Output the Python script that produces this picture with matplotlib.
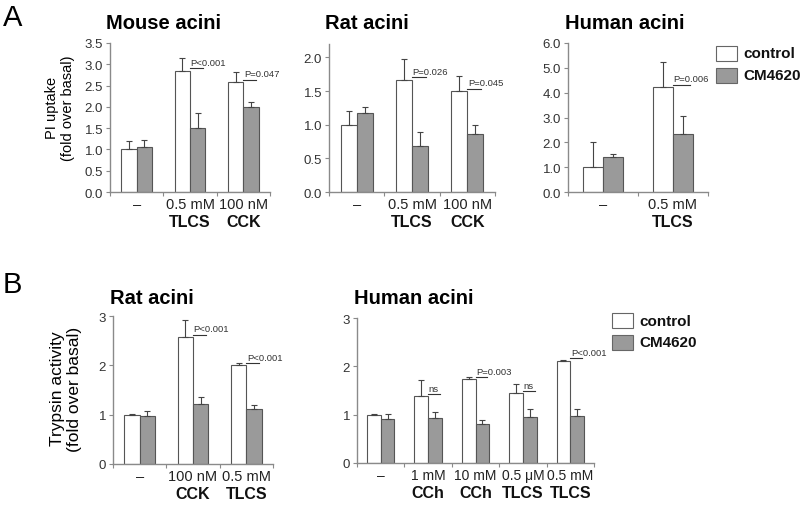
import numpy as np
import matplotlib
matplotlib.use("Agg")
import matplotlib.pyplot as plt
import matplotlib.transforms as mtrans

plt.rcParams['font.family'] = ['Liberation Sans', 'DejaVu Sans']

# ---- data ----
# panel A: PI uptake
mouse_ctrl = [1.0, 2.85, 2.58]
mouse_ctrl_err = [0.2, 0.3, 0.25]
mouse_cm = [1.06, 1.5, 2.0]
mouse_cm_err = [0.16, 0.35, 0.12]
mouse_conc = ["\u2013", "0.5 mM", "100 nM"]
mouse_agent = ["", "TLCS", "CCK"]
mouse_p = [None, "P<0.001", "P=0.047"]

rat_a_ctrl = [1.0, 1.67, 1.5]
rat_a_ctrl_err = [0.2, 0.31, 0.23]
rat_a_cm = [1.17, 0.69, 0.86]
rat_a_cm_err = [0.1, 0.2, 0.14]
rat_a_conc = ["\u2013", "0.5 mM", "100 nM"]
rat_a_agent = ["", "TLCS", "CCK"]
rat_a_p = [None, "P=0.026", "P=0.045"]

human_a_ctrl = [1.02, 4.22]
human_a_ctrl_err = [0.98, 1.0]
human_a_cm = [1.4, 2.35]
human_a_cm_err = [0.14, 0.72]
human_a_conc = ["\u2013", "0.5 mM"]
human_a_agent = ["", "TLCS"]
human_a_p = [None, "P=0.006"]

# panel B: trypsin activity
rat_b_ctrl = [1.0, 2.58, 2.0]
rat_b_ctrl_err = [0.01, 0.33, 0.05]
rat_b_cm = [0.97, 1.22, 1.11]
rat_b_cm_err = [0.1, 0.13, 0.08]
rat_b_conc = ["\u2013", "100 nM", "0.5 mM"]
rat_b_agent = ["", "CCK", "TLCS"]
rat_b_p = [None, "P<0.001", "P<0.001"]

human_b_ctrl = [1.0, 1.38, 1.73, 1.44, 2.12]
human_b_ctrl_err = [0.01, 0.33, 0.04, 0.19, 0.01]
human_b_cm = [0.91, 0.93, 0.8, 0.95, 0.97]
human_b_cm_err = [0.1, 0.13, 0.1, 0.17, 0.14]
human_b_conc = ["\u2013", "1 mM", "10 mM", "0.5 \u03bcM", "0.5 mM"]
human_b_agent = ["", "CCh", "CCh", "TLCS", "TLCS"]
human_b_p = [None, "ns", "P=0.003", "ns", "P<0.001"]

W, H = 800, 506
fig = plt.figure(figsize=(8, 5.06), dpi=100)

SPINE = "#8a8a8a"
EDGE = "#555555"
GREY = "#9a9a9a"
BW = 0.29


def px_axes(left, top, right, bottom):
    return fig.add_axes([left / W, 1 - bottom / H, (right - left) / W, (bottom - top) / H])


def bar_panel(ax, ctrl, ctrl_err, cm, cm_err, conc, agent, pvals,
              ylim, yticks, fmt, title, title_x, title_y, conc_fs=10.5):
    n = len(ctrl)
    centers = np.arange(n) + 0.5
    xc = centers - BW / 2
    xm = centers + BW / 2
    ax.bar(xc, ctrl, BW, color="white", edgecolor=EDGE, linewidth=0.8, zorder=2)
    ax.bar(xm, cm, BW, color=GREY, edgecolor=EDGE, linewidth=0.8, zorder=2)
    ax.errorbar(xc, ctrl, yerr=[np.zeros(n), ctrl_err], fmt="none", ecolor="#444444",
                elinewidth=0.8, capsize=2.2, capthick=0.8, zorder=3)
    ax.errorbar(xm, cm, yerr=[np.zeros(n), cm_err], fmt="none", ecolor="#444444",
                elinewidth=0.8, capsize=2.2, capthick=0.8, zorder=3)
    ax.set_xlim(0, n)
    ax.set_ylim(*ylim)
    ax.set_yticks(yticks)
    ax.set_yticklabels([fmt.format(t) for t in yticks])
    ax.set_xticks(np.arange(n + 1))
    ax.set_xticklabels([])
    for s in ["top", "right"]:
        ax.spines[s].set_visible(False)
    for s in ["left", "bottom"]:
        ax.spines[s].set_color(SPINE)
        ax.spines[s].set_linewidth(1.0)
    ax.tick_params(axis="both", direction="out", length=3, width=0.8, color=SPINE,
                   labelsize=9.5, labelcolor="#333333", pad=2)
    ax.patch.set_alpha(0)

    trans = mtrans.blended_transform_factory(ax.transData, ax.transAxes)
    off = mtrans.ScaledTranslation(0, -3.5 / 72, fig.dpi_scale_trans)
    off2 = mtrans.ScaledTranslation(0, -15.5 / 72, fig.dpi_scale_trans)
    for i in range(n):
        ax.text(centers[i], 0, conc[i], transform=trans + off, ha="center", va="top",
                fontsize=conc_fs, color="#222222")
        if agent[i]:
            ax.text(centers[i], 0, agent[i], transform=trans + off2, ha="center", va="top",
                    fontsize=11.5, fontweight="bold", color="#111111")

    span = ylim[1] - ylim[0]
    for i, p in enumerate(pvals):
        if p is None:
            continue
        y = ctrl[i] + 0.015 * span
        x0 = centers[i]
        ax.plot([x0, x0 + BW * 0.85], [y, y], color="#333333", lw=0.8, zorder=4,
                clip_on=False)
        ax.text(x0 + 0.01, y + 0.01 * span, p, ha="left", va="bottom", fontsize=6.8,
                color="#333333", zorder=4, clip_on=False)

    fig.text(title_x / W, 1 - title_y / H, title, ha="center", va="center",
             fontsize=14.5, fontweight="bold")


def legend_at(x, y_top):
    # x, y_top in pixels (top-left of control box)
    for k, (lab, col) in enumerate([("control", "white"), ("CM4620", GREY)]):
        yt = y_top + k * 22
        r = plt.Rectangle((x / W, 1 - (yt + 15) / H), 21 / W, 15 / H, transform=fig.transFigure,
                          facecolor=col, edgecolor="#666666", linewidth=0.8)
        fig.patches.append(r)
        fig.text((x + 27) / W, 1 - (yt + 7.5) / H, lab, ha="left", va="center",
                 fontsize=11, fontweight="bold", color="#111111")


ax1 = px_axes(110, 44, 270, 193)
bar_panel(ax1, mouse_ctrl, mouse_ctrl_err, mouse_cm, mouse_cm_err, mouse_conc, mouse_agent,
          mouse_p, (0, 3.5), np.arange(0, 3.51, 0.5), "{:.1f}", "Mouse acini", 163, 24)

ax2 = px_axes(329, 45, 495, 193)
bar_panel(ax2, rat_a_ctrl, rat_a_ctrl_err, rat_a_cm, rat_a_cm_err, rat_a_conc, rat_a_agent,
          rat_a_p, (0, 2.2), np.arange(0, 2.01, 0.5), "{:.1f}", "Rat acini", 367, 24)

ax3 = px_axes(568, 44, 708, 193)
bar_panel(ax3, human_a_ctrl, human_a_ctrl_err, human_a_cm, human_a_cm_err, human_a_conc,
          human_a_agent, human_a_p, (0, 6.0), np.arange(0, 6.01, 1.0), "{:.1f}",
          "Human acini", 625, 24)

ax4 = px_axes(113, 317, 273, 465)
bar_panel(ax4, rat_b_ctrl, rat_b_ctrl_err, rat_b_cm, rat_b_cm_err, rat_b_conc, rat_b_agent,
          rat_b_p, (0, 3), [0, 1, 2, 3], "{:d}", "Rat acini", 152, 299)

ax5 = px_axes(357, 319, 594, 464)
bar_panel(ax5, human_b_ctrl, human_b_ctrl_err, human_b_cm, human_b_cm_err, human_b_conc,
          human_b_agent, human_b_p, (0, 3), [0, 1, 2, 3], "{:d}", "Human acini", 414, 299,
          conc_fs=10)

fig.text(60 / W, 1 - 108 / H, "PI uptake\n(fold over basal)", rotation=90, ha="center",
         va="center", fontsize=10.5, linespacing=1.15, multialignment="center")
fig.text(66 / W, 1 - 389 / H, "Trypsin activity\n(fold over basal)", rotation=90,
         ha="center", va="center", fontsize=12.5, linespacing=1.1, multialignment="center")

legend_at(716, 47)
legend_at(612, 314)

fig.text(3 / W, 1 - 18 / H, "A", fontsize=21, ha="left", va="center")
fig.text(3 / W, 1 - 285 / H, "B", fontsize=21, ha="left", va="center")

fig.savefig("out.png", dpi=100, facecolor="white")
